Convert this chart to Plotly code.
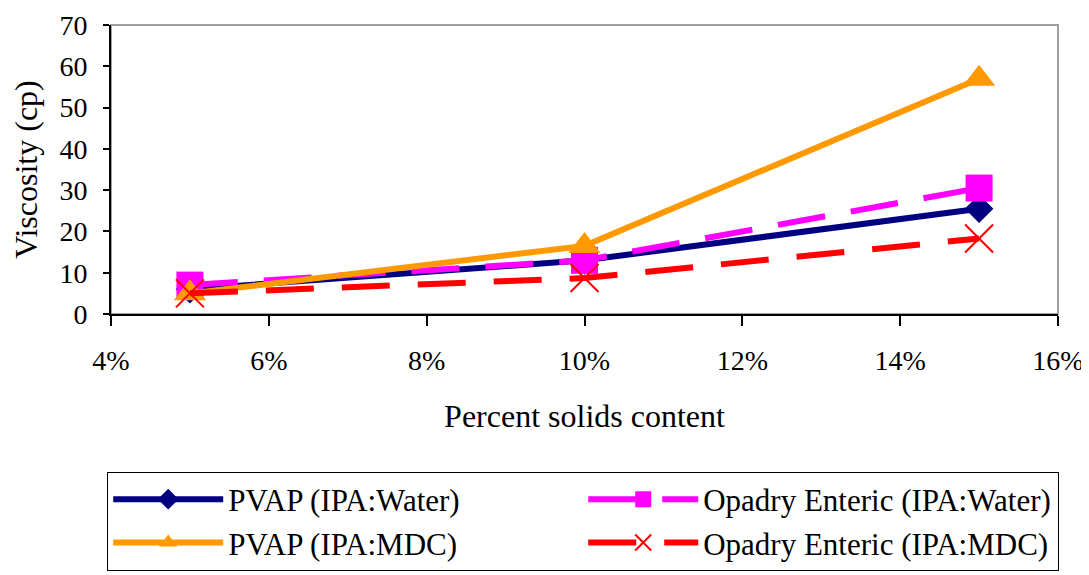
import plotly.graph_objects as go

solids = [5, 10, 15]
pvap_water = [6.0, 13.0, 25.5]
opadry_water = [7.0, 13.0, 30.5]
pvap_mdc = [5.0, 16.5, 57.0]
opadry_mdc = [5.0, 8.7, 18.3]

x_ticks = [4, 6, 8, 10, 12, 14, 16]
y_ticks = [0, 10, 20, 30, 40, 50, 60, 70]

FONT = "Liberation Serif"

fig = go.Figure()
fig.add_trace(go.Scatter(x=solids, y=pvap_water, name="PVAP (IPA:Water)", mode="lines+markers",
                         line=dict(color="#000080", width=6),
                         marker=dict(symbol="diamond", size=22, color="#000080")))
fig.add_trace(go.Scatter(x=solids, y=opadry_water, name="Opadry Enteric (IPA:Water)", mode="lines+markers",
                         line=dict(color="#FF00FF", width=6, dash="48px,26px"),
                         marker=dict(symbol="square", size=27, color="#FF00FF")))
fig.add_trace(go.Scatter(x=solids, y=pvap_mdc, name="PVAP (IPA:MDC)", mode="lines+markers",
                         line=dict(color="#FF9900", width=6),
                         marker=dict(symbol="triangle-up", size=28, color="#FF9900")))
fig.add_trace(go.Scatter(x=solids, y=opadry_mdc, name="Opadry Enteric (IPA:MDC)", mode="lines+markers",
                         line=dict(color="#FF0000", width=6, dash="48px,28px"),
                         marker=dict(symbol="x-thin", size=28, color="#FF0000",
                                     line=dict(color="#FF0000", width=2))))

fig.add_shape(type="rect", xref="paper", yref="paper", x0=0, y0=0, x1=1, y1=1,
              line=dict(color="#A0A0A0", width=2), layer="below")

fig.update_layout(
    width=1089, height=575,
    margin=dict(l=103, r=39, t=17, b=265),
    paper_bgcolor="white", plot_bgcolor="white",
    font=dict(family=FONT, size=28, color="black"),
    showlegend=True,
    legend=dict(orientation="h", x=-0.004, xanchor="left", y=-0.545, yanchor="top",
                entrywidth=350, entrywidthmode="pixels",
                bordercolor="black", borderwidth=1, bgcolor="white",
                font=dict(family=FONT, size=31), itemwidth=110, tracegroupgap=0),
    xaxis=dict(range=[4, 16], tickvals=x_ticks, ticktext=[f"{v}%" for v in x_ticks],
               showgrid=False, zeroline=False, showline=True, linecolor="black", linewidth=2,
               ticks="outside", ticklen=10, tickwidth=2, tickcolor="black",
               ticklabelstandoff=10, automargin=False, ticklabeloverflow="allow",
               title=dict(text="Percent solids content", standoff=30, font=dict(size=32))),
    yaxis=dict(range=[0, 70], tickvals=y_ticks,
               showgrid=False, zeroline=False, showline=True, linecolor="black", linewidth=2,
               ticks="outside", ticklen=6, tickwidth=2, tickcolor="black",
               ticklabelstandoff=10, automargin=False, ticklabeloverflow="allow",
               title=dict(text="Viscosity (cp)", standoff=16, font=dict(size=32))),
)

fig.write_html("out.html")
